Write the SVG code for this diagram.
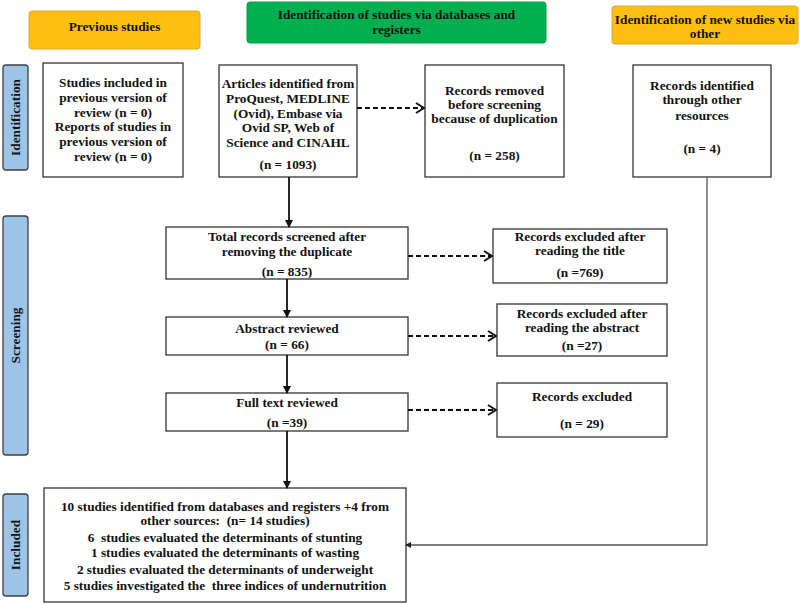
<svg xmlns="http://www.w3.org/2000/svg" width="800" height="604" viewBox="0 0 800 604">
<style>
text{font-family:"Liberation Serif","Times New Roman",serif;font-weight:bold;font-size:13.3px;fill:#111;text-anchor:middle;white-space:pre}
.box{fill:#fff;stroke:#333;stroke-width:1.3}
.hdrO{fill:#FDC010;stroke:#E0A828;stroke-width:1}
.hdrG{fill:#00B050;stroke:#00A048;stroke-width:1}
.side{fill:#9DC3E6;stroke:#404040;stroke-width:1.3}
.solid{stroke:#111;stroke-width:1.8;fill:none}
.dash{stroke:#111;stroke-width:2;fill:none;stroke-dasharray:5 3}
.gray{stroke:#555;stroke-width:1.3;fill:none}
</style>
<defs>
<marker id="tri" markerWidth="8" markerHeight="8" refX="7" refY="4" orient="auto" markerUnits="userSpaceOnUse">
<path d="M0,0 L8,4 L0,8 z" fill="#111"/>
</marker>
<marker id="chev" markerWidth="10" markerHeight="12" refX="9" refY="6" orient="auto" markerUnits="userSpaceOnUse">
<path d="M1,1 L9,6 L1,11" fill="none" stroke="#111" stroke-width="2"/>
</marker>
<marker id="tri2" markerWidth="6" markerHeight="6" refX="5" refY="3" orient="auto" markerUnits="userSpaceOnUse">
<path d="M0,0 L6,3 L0,6 z" fill="#222"/>
</marker>
</defs>

<g id="hdr-previous">
<rect class="hdrO" x="29" y="11" width="171" height="38" rx="3"/>
<text x="114.5" y="31">Previous studies</text>
</g>
<g id="hdr-databases">
<rect class="hdrG" x="247" y="2" width="299" height="41" rx="3"/>
<text x="396.5" y="19">Identification of studies via databases and</text>
<text x="396.5" y="34">registers</text>
</g>
<g id="hdr-other">
<rect class="hdrO" x="612" y="6" width="186" height="38" rx="3"/>
<text x="705" y="24">Identification of new studies via</text>
<text x="705" y="38">other</text>
</g>

<g id="side-identification">
<rect class="side" x="3" y="65" width="25" height="105" rx="3"/>
<text transform="translate(20,117.5) rotate(-90)">Identification</text>
</g>
<g id="side-screening">
<rect class="side" x="3" y="216" width="25" height="239" rx="3"/>
<text transform="translate(20,335.5) rotate(-90)">Screening</text>
</g>
<g id="side-included">
<rect class="side" x="3" y="494" width="25" height="102" rx="3"/>
<text transform="translate(20,545) rotate(-90)">Included</text>
</g>

<g id="n-previous">
<rect class="box" x="43" y="63" width="140" height="114"/>
<text x="113" y="87">Studies included in</text>
<text x="113" y="102">previous version of</text>
<text x="113" y="117">review (n = 0)</text>
<text x="113" y="131">Reports of studies in</text>
<text x="113" y="146">previous version of</text>
<text x="113" y="161">review (n = 0)</text>
</g>
<g id="n-articles">
<rect class="box" x="219" y="65" width="138" height="112"/>
<text x="288" y="88">Articles identified from</text>
<text x="288" y="103">ProQuest, MEDLINE</text>
<text x="288" y="118">(Ovid), Embase via</text>
<text x="288" y="132">Ovid SP, Web of</text>
<text x="288" y="147">Science and CINAHL</text>
<text x="288" y="169">(n = 1093)</text>
</g>
<g id="n-removed">
<rect class="box" x="425" y="65" width="139" height="112"/>
<text x="494.5" y="95">Records removed</text>
<text x="494.5" y="109">before screening</text>
<text x="494.5" y="123">because of duplication</text>
<text x="494.5" y="160">(n = 258)</text>
</g>
<g id="n-other">
<rect class="box" x="633" y="65" width="138" height="112"/>
<text x="702" y="90">Records identified</text>
<text x="702" y="104">through other</text>
<text x="702" y="120">resources</text>
<text x="702" y="153">(n = 4)</text>
</g>
<g id="n-screened">
<rect class="box" x="166" y="227" width="242" height="52"/>
<text x="287" y="241">Total records screened after</text>
<text x="287" y="256">removing the duplicate</text>
<text x="287" y="276">(n = 835)</text>
</g>
<g id="n-abstract">
<rect class="box" x="166" y="317" width="242" height="38"/>
<text x="287" y="333">Abstract reviewed</text>
<text x="287" y="349">(n = 66)</text>
</g>
<g id="n-fulltext">
<rect class="box" x="166" y="393" width="242" height="38"/>
<text x="287" y="407">Full text reviewed</text>
<text x="287" y="427">(n =39)</text>
</g>
<g id="n-excl-title">
<rect class="box" x="493" y="229" width="174" height="54"/>
<text x="580" y="241">Records excluded after</text>
<text x="580" y="255">reading the title</text>
<text x="580" y="277">(n =769)</text>
</g>
<g id="n-excl-abstract">
<rect class="box" x="497" y="304" width="170" height="52"/>
<text x="582" y="318">Records excluded after</text>
<text x="582" y="332">reading the abstract</text>
<text x="582" y="350">(n =27)</text>
</g>
<g id="n-excl-full">
<rect class="box" x="497" y="383" width="170" height="54"/>
<text x="582" y="401">Records excluded</text>
<text x="582" y="428">(n = 29)</text>
</g>
<g id="n-included">
<rect class="box" x="44" y="488" width="362" height="114"/>
<text x="225" y="511">10 studies identified from databases and registers +4 from</text>
<text x="225" y="525">other sources:  (n= 14 studies)</text>
<text x="225" y="542">6  studies evaluated the determinants of stunting</text>
<text x="225" y="557">1 studies evaluated the determinants of wasting</text>
<text x="225" y="574">2 studies evaluated the determinants of underweight</text>
<text x="225" y="590">5 studies investigated the  three indices of undernutrition</text>
</g>

<g id="connectors">
<line class="solid" x1="289" y1="177" x2="289" y2="227" marker-end="url(#tri)"/>
<line class="solid" x1="287" y1="279" x2="287" y2="317" marker-end="url(#tri)"/>
<line class="solid" x1="287" y1="355" x2="287" y2="393" marker-end="url(#tri)"/>
<line class="solid" x1="287" y1="431" x2="287" y2="488" marker-end="url(#tri)"/>
<line class="dash" x1="357" y1="108" x2="424" y2="108" marker-end="url(#chev)"/>
<line class="dash" x1="408" y1="256" x2="492" y2="256" marker-end="url(#chev)"/>
<line class="dash" x1="408" y1="336" x2="496" y2="336" marker-end="url(#chev)"/>
<line class="dash" x1="408" y1="410" x2="496" y2="410" marker-end="url(#chev)"/>
<polyline class="gray" points="707,177 707,545 406,545" marker-end="url(#tri2)"/>
</g>
</svg>
